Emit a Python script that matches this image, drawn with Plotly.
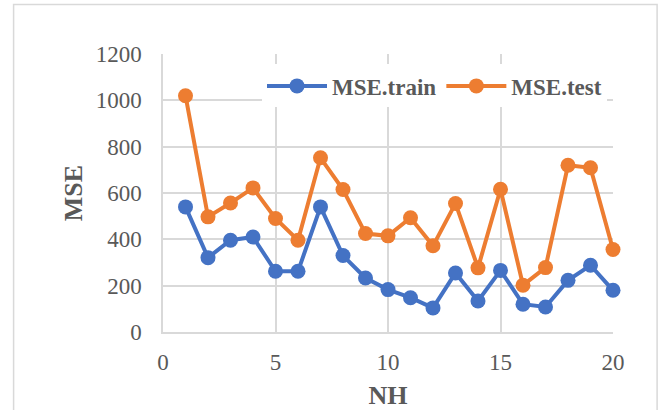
import plotly.graph_objects as go

nh = list(range(1, 21))
mse_train = [540, 321, 396, 410, 262, 262, 540, 330, 233, 183,
             148, 104, 255, 134, 266, 120, 108, 223, 288, 180]
mse_test = [1020, 497, 557, 622, 490, 396, 752, 615, 425, 415,
            493, 372, 555, 277, 616, 202, 278, 720, 709, 356]

x_ticks = [0, 5, 10, 15, 20]
y_ticks = [0, 200, 400, 600, 800, 1000, 1200]

FONT = "Liberation Serif"
TXT = "#595959"
GRID = "#D9D9D9"

fig = go.Figure()
fig.add_trace(go.Scatter(x=nh, y=mse_train, name="MSE.train", mode="lines+markers",
                         line=dict(color="#4472C4", width=4),
                         marker=dict(color="#4472C4", size=15), cliponaxis=False))
fig.add_trace(go.Scatter(x=nh, y=mse_test, name="MSE.test", mode="lines+markers",
                         line=dict(color="#ED7D31", width=4),
                         marker=dict(color="#ED7D31", size=15), cliponaxis=False))

fig.update_layout(
    width=662, height=410,
    margin=dict(l=163, r=49, t=54, b=78),
    paper_bgcolor="white", plot_bgcolor="white",
    font=dict(family=FONT, color=TXT, size=23),
    showlegend=True,
    legend=dict(orientation="h", x=0.22, xanchor="left", y=0.885, yanchor="middle",
                bgcolor="white", font=dict(family=FONT, size=23, color=TXT, weight="bold"),
                itemwidth=60, traceorder="normal"),
    xaxis=dict(range=[0, 20], tickvals=x_ticks, showgrid=True, gridcolor=GRID, gridwidth=1.5,
               showline=True, linecolor=GRID, linewidth=1.5, zeroline=False, automargin=False,
               ticks="outside", ticklen=0, ticklabelstandoff=9,
               tickfont=dict(family=FONT, size=23, color=TXT),
               title=dict(text="NH", font=dict(family=FONT, size=26, color=TXT, weight="bold"), standoff=13)),
    yaxis=dict(range=[0, 1200], tickvals=y_ticks, showgrid=True, gridcolor=GRID, gridwidth=1.5,
               showline=True, linecolor=GRID, linewidth=1.5, zeroline=False, automargin=False,
               ticks="outside", ticklen=0, ticklabelstandoff=15,
               tickfont=dict(family=FONT, size=23, color=TXT),
               title=dict(text="MSE", font=dict(family=FONT, size=26, color=TXT, weight="bold"), standoff=6)),
    shapes=[dict(type="rect", xref="paper", yref="paper", x0=-0.332, x1=1.098, y0=-0.5, y1=1.178,
                 line=dict(color=GRID, width=1.5), fillcolor="rgba(0,0,0,0)", layer="below")],
)

fig.write_html("out.html")
